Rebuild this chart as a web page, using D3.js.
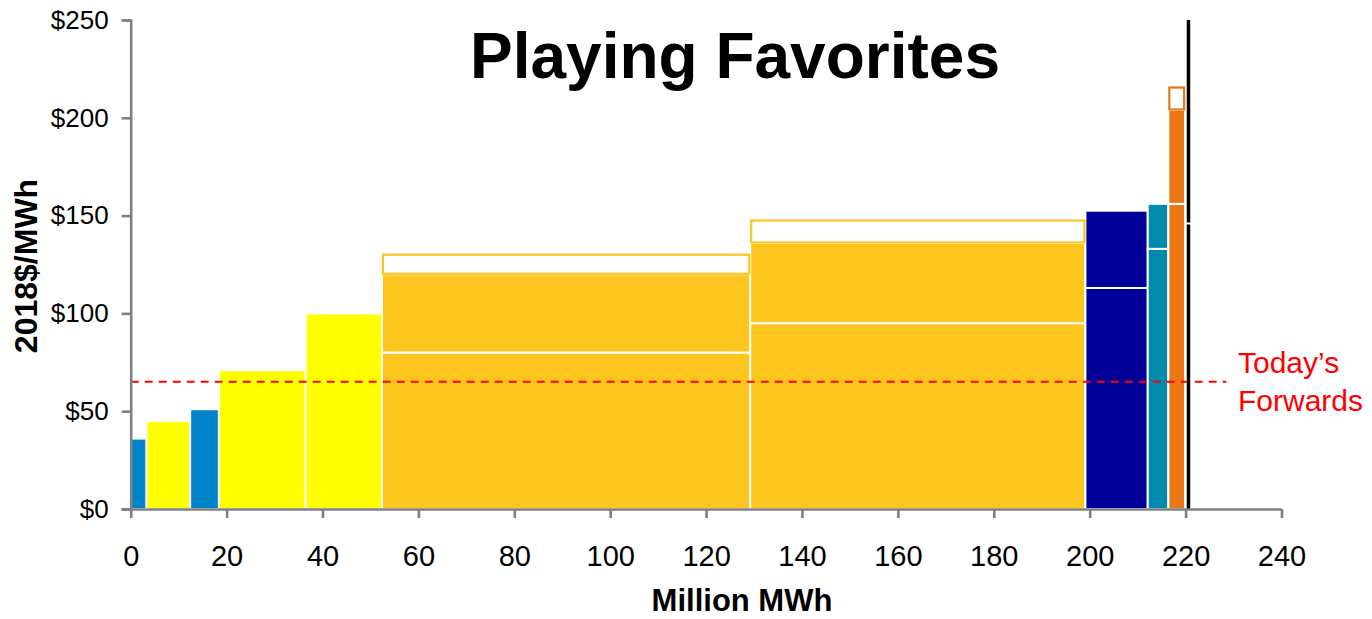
<!DOCTYPE html>
<html>
<head>
<meta charset="utf-8">
<script src="https://cdn.jsdelivr.net/npm/d3@7"></script>
<style>
  html, body { margin: 0; padding: 0; background: #fff; }
  svg { display: block; font-family: "Liberation Sans", Arial, sans-serif; }
</style>
</head>
<body>
<svg id="chart" width="1372" height="619"></svg>
<script>
// Supply stack: each block spans a range of cumulative generation (million MWh)
// and is split into cost levels ($/MWh). An optional hollow cap sits on top.
const blockStart = [0, 3.3, 12.4, 18.4, 36.5, 52.4, 129.2, 199.1, 212.1, 216.4];
const blockEnd   = [3.3, 12.4, 18.4, 36.5, 52.4, 129.2, 199.1, 212.1, 216.4, 219.9];
const blockKind  = [0, 1, 0, 1, 1, 2, 2, 3, 4, 5];
const blockLevels = [[36], [45], [51], [71], [100], [80, 120], [95, 136], [113, 152.5], [133, 156], [156, 204]];
const blockCap   = [null, null, null, null, null, 130.5, 148, null, null, 216];

const forwardPrice = 65;      // today's forwards, $/MWh
const demandLine = 220.6;     // million MWh
const demandBreak = 146;      // $/MWh where the vertical line is interrupted

const xTicks = [0, 20, 40, 60, 80, 100, 120, 140, 160, 180, 200, 220, 240];
const yTicks = [0, 50, 100, 150, 200, 250];

const kindFill = ["#0084C9", "#FFFF00", "#FFC51F", "#000099", "#008BAE", "#E97716"];

const svg = d3.select("#chart");
const x = d3.scaleLinear().domain([0, 240]).range([130.7, 1281.5]);
const y = d3.scaleLinear().domain([0, 250]).range([509, 20]);

// Build stacked segments for each block
const segments = [];
const caps = [];
blockStart.forEach((s, i) => {
  let lo = 0;
  blockLevels[i].forEach(v => {
    segments.push({ x0: s, x1: blockEnd[i], y0: lo, y1: v, kind: blockKind[i] });
    lo = v;
  });
  if (blockCap[i] != null) {
    caps.push({ x0: s, x1: blockEnd[i], y0: lo, y1: blockCap[i], kind: blockKind[i] });
  }
});

const bars = svg.append("g");
bars.selectAll("rect.seg").data(segments).join("rect")
  .attr("class", "seg")
  .attr("x", d => x(d.x0))
  .attr("y", d => y(d.y1))
  .attr("width", d => x(d.x1) - x(d.x0))
  .attr("height", d => y(d.y0) - y(d.y1))
  .attr("fill", d => kindFill[d.kind])
  .attr("stroke", "#fff")
  .attr("stroke-width", 2);

bars.selectAll("rect.cap").data(caps).join("rect")
  .attr("class", "cap")
  .attr("x", d => x(d.x0) + 1)
  .attr("y", d => y(d.y1) + 1)
  .attr("width", d => x(d.x1) - x(d.x0) - 2)
  .attr("height", d => y(d.y0) - y(d.y1) - 1.5)
  .attr("fill", "#fff")
  .attr("stroke", d => kindFill[d.kind])
  .attr("stroke-width", 2.2);

// Today's forwards (dashed), running just past the demand line
const dashEnd = 228.5;
svg.append("line")
  .attr("x1", x(0)).attr("x2", x(dashEnd))
  .attr("y1", y(forwardPrice)).attr("y2", y(forwardPrice))
  .attr("stroke", "#FF0000").attr("stroke-width", 2)
  .attr("stroke-dasharray", "8,6");

// Vertical demand line, broken at demandBreak
svg.append("line")
  .attr("x1", x(demandLine)).attr("x2", x(demandLine))
  .attr("y1", y(0)).attr("y2", y(demandBreak) + 1)
  .attr("stroke", "#000").attr("stroke-width", 3.5);
svg.append("line")
  .attr("x1", x(demandLine)).attr("x2", x(demandLine))
  .attr("y1", y(demandBreak) - 1).attr("y2", y(250))
  .attr("stroke", "#000").attr("stroke-width", 3.5);

// Axes
const axisColor = "#808080";
const gx = svg.append("g").attr("transform", `translate(0,${y(0)})`)
  .call(d3.axisBottom(x).tickValues(xTicks).tickSize(9).tickSizeOuter(9).tickPadding(27));
const gy = svg.append("g").attr("transform", `translate(${x(0)},0)`)
  .call(d3.axisLeft(y).tickValues(yTicks).tickSize(9).tickSizeOuter(9).tickPadding(13)
    .tickFormat(d => "$" + d));

[gx, gy].forEach(g => {
  g.selectAll("path.domain").attr("stroke", axisColor).attr("stroke-width", 2.6);
  g.selectAll(".tick line").attr("stroke", axisColor).attr("stroke-width", 2.6);
  g.selectAll(".tick text").attr("fill", "#000").attr("font-family", "'Liberation Sans', Arial, sans-serif");
});
gx.select("path.domain").attr("d", `M${x(0) - 9},0.5H${x(240)}`);
gx.selectAll(".tick text").attr("font-size", 29).attr("dy", "0.71em");
gy.selectAll(".tick text").attr("font-size", 26);

// Axis titles
svg.append("text")
  .attr("x", 742).attr("y", 611)
  .attr("text-anchor", "middle")
  .attr("font-size", 31).attr("font-weight", "bold")
  .text("Million MWh");

svg.append("text")
  .attr("transform", "translate(37,266) rotate(-90)")
  .attr("text-anchor", "middle")
  .attr("font-size", 32).attr("font-weight", "bold")
  .text("2018$/MWh");

// Title
svg.append("text")
  .attr("x", 735).attr("y", 78)
  .attr("text-anchor", "middle")
  .attr("font-size", 64).attr("font-weight", "bold")
  .text("Playing Favorites");

// Forwards label
const fl = svg.append("text")
  .attr("x", 1238).attr("y", 373)
  .attr("fill", "#FF0000")
  .attr("font-size", 30);
fl.append("tspan").attr("x", 1238).attr("dy", 0).text("Today’s");
fl.append("tspan").attr("x", 1238).attr("dy", 38).text("Forwards");
</script>
</body>
</html>
